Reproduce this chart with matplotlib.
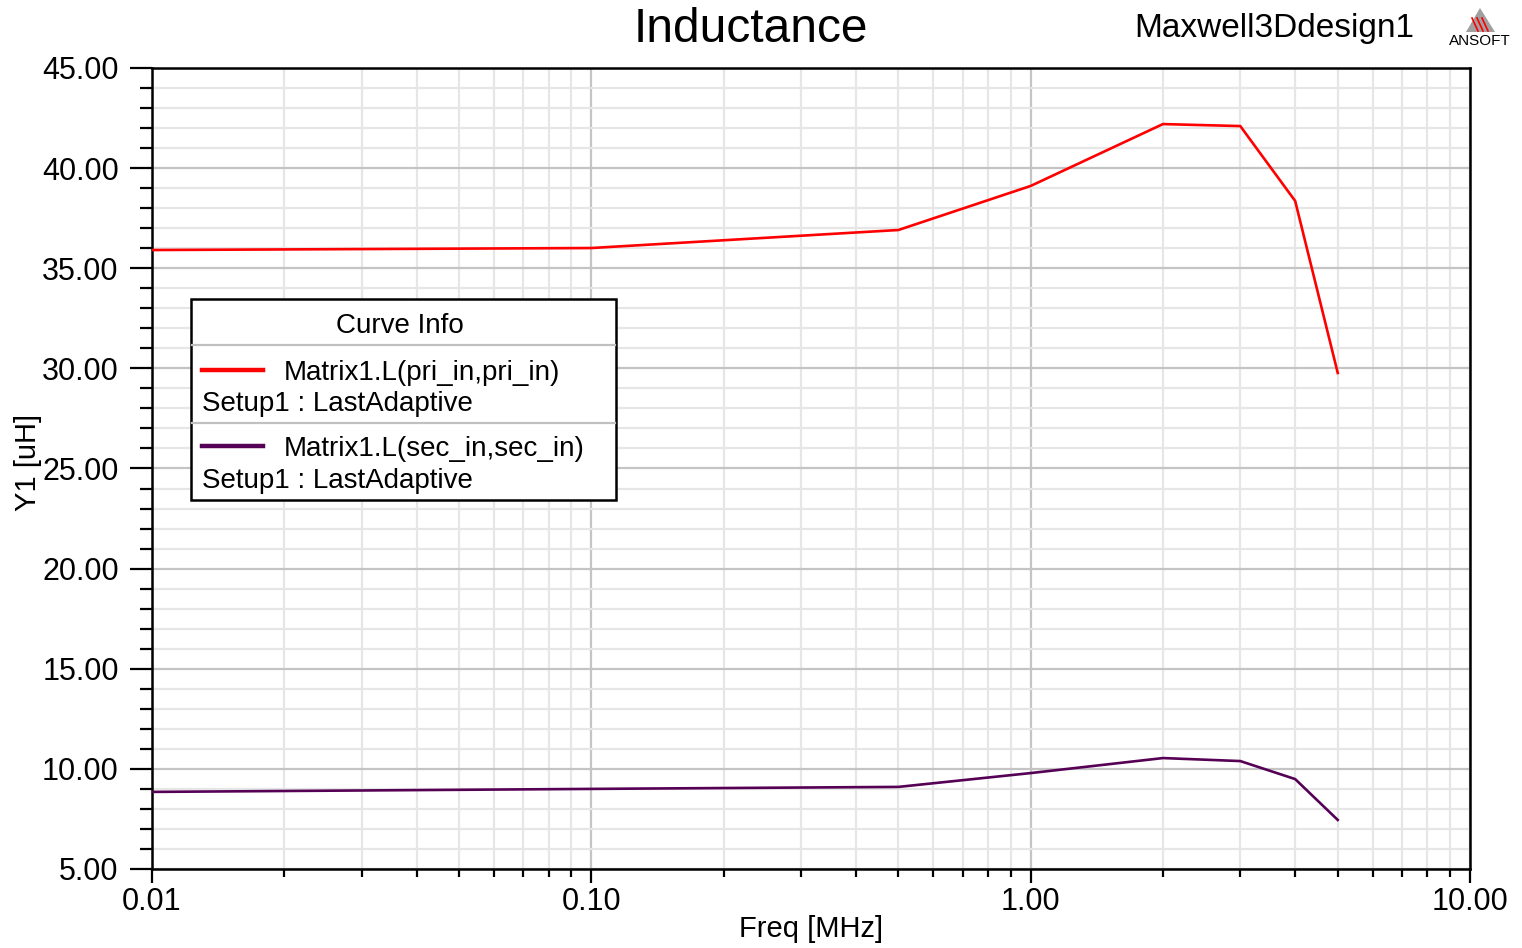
import matplotlib
matplotlib.use("Agg")
import matplotlib.pyplot as plt
from matplotlib.patches import Rectangle, Polygon
from matplotlib.lines import Line2D
from matplotlib.ticker import FixedLocator, MultipleLocator, LogLocator, NullFormatter

plt.rcParams['font.family'] = ['Liberation Sans', 'DejaVu Sans']

freq_mhz = [0.01, 0.1, 0.5, 1.0, 2.0, 3.0, 4.0, 5.0]
L_pri = [35.91, 36.01, 36.91, 39.11, 42.20, 42.10, 38.36, 29.77]
L_sec = [8.85, 9.00, 9.10, 9.79, 10.54, 10.39, 9.49, 7.45]
series_names = ["Matrix1.L(pri_in,pri_in)", "Matrix1.L(sec_in,sec_in)"]
series_colors = ["#ff0000", "#550055"]
setup_label = "Setup1 : LastAdaptive"
x_ticks = [0.01, 0.1, 1.0, 10.0]
x_tick_labels = ["0.01", "0.10", "1.00", "10.00"]
y_ticks = [5, 10, 15, 20, 25, 30, 35, 40, 45]
y_tick_labels = ["%.2f" % v for v in y_ticks]

W, H = 1522, 948
fig = plt.figure(figsize=(W / 100, H / 100), dpi=100)
ax = fig.add_axes([152 / W, 1 - 869 / H, (1470 - 152) / W, (869 - 68) / H])

ax.plot(freq_mhz, L_pri, color=series_colors[0], lw=1.9, zorder=3)
ax.plot(freq_mhz, L_sec, color=series_colors[1], lw=1.9, zorder=3)

ax.set_xscale('log')
ax.set_xlim(0.01, 10)
ax.set_ylim(5, 45)
ax.xaxis.set_major_locator(FixedLocator(x_ticks))
ax.set_xticklabels(x_tick_labels)
ax.xaxis.set_minor_locator(LogLocator(base=10, subs=[2, 3, 4, 5, 6, 7, 8, 9]))
ax.xaxis.set_minor_formatter(NullFormatter())
ax.yaxis.set_major_locator(FixedLocator(y_ticks))
ax.set_yticklabels(y_tick_labels)
ax.yaxis.set_minor_locator(MultipleLocator(1))

ax.grid(True, which='major', color='#c4c4c4', lw=1.6, zorder=0)
ax.grid(True, which='minor', color='#e6e6e6', lw=1.6, zorder=0)
ax.set_axisbelow(True)

for s in ax.spines.values():
    s.set_linewidth(1.8)
    s.set_color('black')

ax.tick_params(axis='y', which='major', direction='out', length=16, width=1.6, pad=8, labelsize=22)
ax.tick_params(axis='y', which='minor', direction='out', length=8.5, width=1.6)
ax.tick_params(axis='x', which='major', direction='out', length=10, width=1.6, pad=3, labelsize=22)
ax.tick_params(axis='x', which='minor', direction='out', length=6, width=1.6)

ax.set_xlabel("Freq [MHz]", fontsize=21)
ax.set_ylabel("Y1 [uH]", fontsize=21)
ax.yaxis.set_label_coords(-(152 - 42) / (1470 - 152), (869 - 462) / (869 - 68))
ax.xaxis.set_label_coords(0.5, -(915 - 869) / (869 - 68))

fig.text(751 / W, 1 - 30 / H, "Inductance", fontsize=34.5, ha='center', va='center')
fig.text(1274 / W, 1 - 29 / H, "Maxwell3Ddesign1", fontsize=24, ha='center', va='center')

# ANSOFT logo
def fp(x, y):
    return (x / W, 1 - y / H)
tri = Polygon([fp(1466, 32), fp(1480, 8), fp(1495, 32)], closed=True,
              facecolor='#a0a0a0', edgecolor='none', transform=fig.transFigure)
fig.patches.append(tri)
for dx in (0, 5, 10):
    fig.lines.append(Line2D([(1472 + dx) / W, (1478 + dx) / W], [1 - 18 / H, 1 - 31 / H],
                            transform=fig.transFigure, color='red', lw=1.2))
fig.text(1480 / W, 1 - 41 / H, "ANSOFT", fontsize=11, ha='center', va='center')

# Curve Info box (axes pixel coordinates converted to axes fraction)
ax_w, ax_h = 1470 - 152, 869 - 68
def af(x, y):
    return ((x - 152) / ax_w, (869 - y) / ax_h)

x0, y0 = af(191, 500)
x1, y1 = af(616, 299)
ax.add_patch(Rectangle((x0, y0), x1 - x0, y1 - y0, transform=ax.transAxes,
                       facecolor='white', edgecolor='black', lw=1.8, zorder=5))
for ysep in (345, 423):
    a, b = af(192, ysep)
    c, _ = af(615, ysep)
    ax.add_line(Line2D([a, c], [b, b], transform=ax.transAxes, color='#c0c0c0', lw=1.6, zorder=6))
tx, ty = af(400, 326)
ax.text(tx, ty, "Curve Info", transform=ax.transAxes, fontsize=20, ha='center', va='center', zorder=7)
for i, (yl, ys) in enumerate(((370, 401), (446, 478))):
    a, b = af(202, yl)
    c, _ = af(263, yl)
    ax.add_line(Line2D([a, c], [b, b], transform=ax.transAxes, color=series_colors[i], lw=3.2, zorder=7))
    nx, ny = af(284, yl + 3)
    ax.text(nx, ny, series_names[i], transform=ax.transAxes, fontsize=20, ha='left', va='center', zorder=7)
    sx, sy = af(202, ys + 3)
    ax.text(sx, sy, setup_label, transform=ax.transAxes, fontsize=20, ha='left', va='center', zorder=7)

fig.savefig("out.png", dpi=100)
